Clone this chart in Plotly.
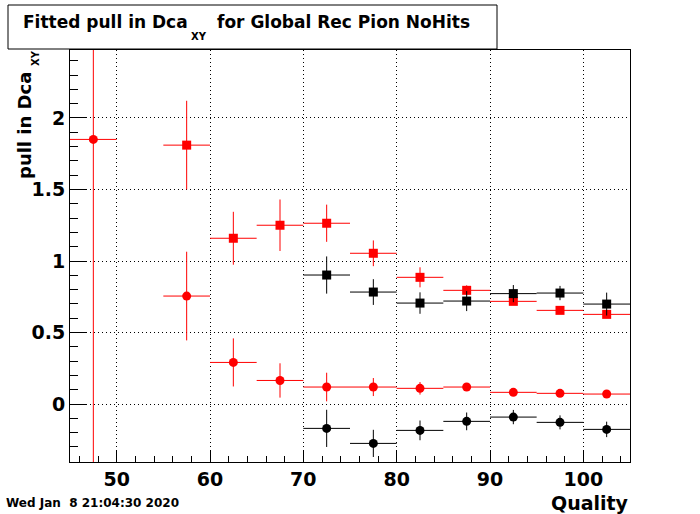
import plotly.graph_objects as go

# Bin centers (Quality) and half-widths
bins_red = [47.5, 57.5, 62.5, 67.5, 72.5, 77.5, 82.5, 87.5, 92.5, 97.5, 102.5]
bins_red_sq = [57.5, 62.5, 67.5, 72.5, 77.5, 82.5, 87.5, 92.5, 97.5, 102.5]
bins_black = [72.5, 77.5, 82.5, 87.5, 92.5, 97.5, 102.5]
half_width = 2.5

# Red circles
red_circ_y = [1.85, 0.755, 0.291, 0.165, 0.119, 0.119, 0.110, 0.119, 0.082, 0.075, 0.070]
red_circ_err = [3.0, 0.31, 0.168, 0.12, 0.10, 0.063, 0.044, 0.025, 0.02, 0.015, 0.015]

# Red squares
red_sq_y = [1.81, 1.159, 1.25, 1.264, 1.054, 0.886, 0.795, 0.718, 0.655, 0.627]
red_sq_err = [0.31, 0.185, 0.18, 0.13, 0.09, 0.07, 0.035, 0.02, 0.015, 0.015]

# Black squares
blk_sq_y = [0.902, 0.783, 0.706, 0.720, 0.772, 0.776, 0.699]
blk_sq_err = [0.13, 0.09, 0.075, 0.07, 0.06, 0.05, 0.08]

# Black circles
blk_circ_y = [-0.170, -0.275, -0.184, -0.121, -0.091, -0.128, -0.177]
blk_circ_err = [0.13, 0.095, 0.069, 0.062, 0.05, 0.049, 0.054]

x_ticks = [50, 60, 70, 80, 90, 100]
y_ticks = [0, 0.5, 1, 1.5, 2]
y_tick_labels = ["0", "0.5", "1", "1.5", "2"]

FONT = "DejaVu Sans"

# plot area in pixels: x 70..630, y 50..462
def px(x):
    return (x - 70) / 560


def py(y):
    return (462 - y) / 412


def series(x, y, ey, color, symbol):
    return go.Scatter(
        x=x, y=y, mode="markers",
        marker=dict(color=color, symbol=symbol, size=9, line=dict(width=0)),
        error_x=dict(type="constant", value=half_width, color=color, thickness=1, width=0),
        error_y=dict(type="data", array=ey, color=color, thickness=1, width=0),
        showlegend=False, cliponaxis=True,
    )


fig = go.Figure()
fig.add_trace(series(bins_red, red_circ_y, red_circ_err, "#ff0000", "circle"))
fig.add_trace(series(bins_red_sq, red_sq_y, red_sq_err, "#ff0000", "square"))
fig.add_trace(series(bins_black, blk_sq_y, blk_sq_err, "#000000", "square"))
fig.add_trace(series(bins_black, blk_circ_y, blk_circ_err, "#000000", "circle"))


def ann(text, x, y, size, xanchor="center", yanchor="middle", angle=0):
    return dict(text=text, xref="paper", yref="paper", x=px(x), y=py(y),
                xanchor=xanchor, yanchor=yanchor, showarrow=False, textangle=angle,
                borderpad=0, font=dict(family=FONT, size=size, color="black", weight="bold"))


fig.update_layout(
    width=700, height=514,
    margin=dict(l=70, r=70, t=50, b=52, pad=0),
    paper_bgcolor="white", plot_bgcolor="white",
    font=dict(family=FONT, color="black"),
    xaxis=dict(
        range=[45, 105], tickvals=x_ticks, ticktext=[str(v) for v in x_ticks],
        ticks="inside", ticklen=12, tickcolor="black", tickwidth=1,
        minor=dict(dtick=2, tick0=0, ticks="inside", ticklen=6, tickcolor="black", showgrid=False),
        showgrid=True, gridcolor="black", griddash="1px,3px", gridwidth=1,
        showline=True, linecolor="black", linewidth=1, mirror=True,
        zeroline=False,
        tickfont=dict(family=FONT, size=19, weight="bold"),
    ),
    yaxis=dict(
        range=[-0.405, 2.475], tickvals=y_ticks, ticktext=y_tick_labels,
        ticks="inside", ticklen=16, tickcolor="black", tickwidth=1,
        minor=dict(dtick=0.1, tick0=0, ticks="inside", ticklen=8, tickcolor="black", showgrid=False),
        showgrid=True, gridcolor="black", griddash="1px,3px", gridwidth=1,
        showline=True, linecolor="black", linewidth=1, mirror=True,
        zeroline=False,
        tickfont=dict(family=FONT, size=19, weight="bold"),
    ),
    shapes=[dict(type="rect", xref="paper", yref="paper",
                 x0=px(8), x1=px(497), y0=py(49), y1=py(5),
                 line=dict(color="black", width=1), fillcolor="white", layer="above")],
    annotations=[
        ann("Fitted pull in Dca", 189, 22, 17, xanchor="right"),
        ann("XY", 199, 36.5, 10),
        ann("for Global Rec Pion NoHits", 216, 22, 17, xanchor="left"),
        ann("pull in Dca", 24, 126, 18, angle=-90),
        ann("XY", 35, 58, 10, angle=-90),
        ann("Quality", 630, 503, 19, xanchor="right"),
        ann("Wed Jan\u00a0 8 21:04:30 2020", 5, 503, 12, xanchor="left"),
    ],
)

fig.write_html("out.html", config={"displayModeBar": False},
               post_script="document.body.style.margin='0';")
